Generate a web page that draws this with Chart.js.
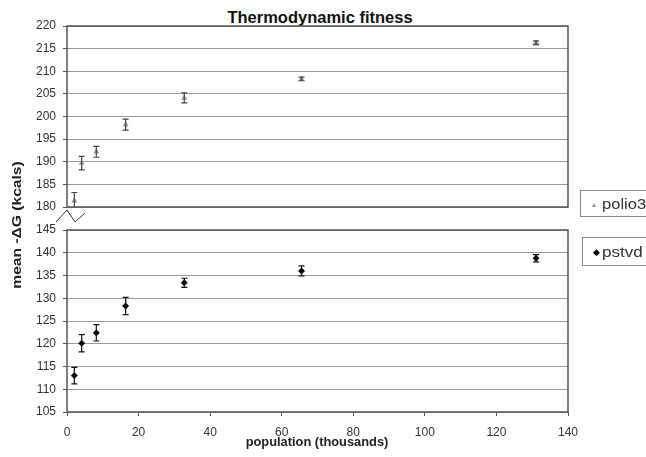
<!DOCTYPE html>
<html>
<head>
<meta charset="utf-8">
<script src="https://cdn.jsdelivr.net/npm/chart.js@4/dist/chart.umd.min.js"></script>
<style>
  html, body { margin:0; padding:0; background:#fff; }
  #wrap { position:relative; width:646px; height:457px; background:#fff; overflow:hidden;
          font-family:"Liberation Sans", Arial, sans-serif; color:#222; }
  .box { position:absolute; left:0; width:646px; }
  #title { position:absolute; left:0; width:640px; text-align:center; top:8px;
           font-weight:bold; font-size:16.5px; color:#111; }
  #ytitle { position:absolute; left:17px; top:225px; transform:translate(-50%,-50%) rotate(-90deg) scaleX(1.3);
            white-space:nowrap; font-weight:bold; font-size:12px; color:#222; }
  #xtitle { position:absolute; left:317px; top:442px; transform:translate(-50%,-50%) scaleX(1.07);
            white-space:nowrap; font-weight:bold; font-size:12px; color:#222; }
  .leg { position:absolute; border:1px solid #888; background:#fff; color:#333;
         white-space:nowrap; box-sizing:border-box; }
  .leg span.t { position:absolute; top:50%; transform-origin:left center; font-size:14px; }
  .leg span.m { position:absolute; top:50%; transform:translate(-50%,-50%); }
</style>
</head>
<body>
<div id="wrap">
  <div id="title">Thermodynamic fitness</div>
  <div class="box" style="top:0;height:215px;"><canvas id="cTop"></canvas></div>
  <div class="box" style="top:215px;height:242px;"><canvas id="cBot"></canvas></div>
  <svg style="position:absolute;left:0;top:0;" width="646" height="457">
    <polyline points="56,222 67,210 75,222 85,213" fill="none" stroke="#333" stroke-width="1"/>
  </svg>
  <div id="ytitle">mean -ΔG (kcals)</div>
  <div id="xtitle">population (thousands)</div>
  <div class="leg" style="left:580px;top:190px;width:80px;height:27px;">
    <span class="m" style="left:13px;font-size:7px;color:#999;">&#9650;</span>
    <span class="t" style="left:21px;transform:translateY(-50%) scaleX(1.18);">polio3</span>
  </div>
  <div class="leg" style="left:582px;top:237px;width:80px;height:29px;">
    <span class="m" style="left:13px;font-size:9px;color:#000;">&#9670;</span>
    <span class="t" style="left:19px;transform:translateY(-50%) scaleX(1.22);">pstvd</span>
  </div>
</div>
<script>
// population (thousands)
const popX = [2.048, 4.096, 8.192, 16.384, 32.768, 65.536, 131.072];
// polio3 mean -dG and error
const polioMean = [181.4, 189.7, 192.2, 198.2, 204.1, 208.3, 216.3];
const polioErr  = [1.8, 1.5, 1.2, 1.2, 1.1, 0.4, 0.4];
// pstvd mean -dG and error
const pstvdMean = [113.0, 120.1, 122.4, 128.3, 133.4, 136.0, 138.8];
const pstvdErr  = [1.8, 1.9, 1.8, 1.9, 1.0, 1.1, 0.8];
// axis ranges / ticks
const xRange = [0, 140];
const xStep = 20;
const topRange = [180, 220];
const botRange = [105, 145];
const yStep = 5;

const FONT = "'Liberation Sans', Arial, sans-serif";

const errorBarPlugin = {
  id: 'errorBars',
  afterDatasetsDraw(chart) {
    const ctx = chart.ctx, ca = chart.chartArea;
    const xs = chart.scales.x, ys = chart.scales.y;
    ctx.save();
    ctx.beginPath();
    ctx.rect(ca.left, ca.top - 1, ca.right - ca.left, ca.bottom - ca.top + 2);
    ctx.clip();
    chart.data.datasets.forEach(ds => {
      const errs = ds.errorBars;
      if (!errs) return;
      ctx.strokeStyle = ds.errorColor;
      ctx.lineWidth = 1.2;
      ds.data.forEach((p, i) => {
        const x = xs.getPixelForValue(p.x);
        const y1 = ys.getPixelForValue(p.y + errs[i]);
        const y2 = ys.getPixelForValue(p.y - errs[i]);
        ctx.beginPath();
        ctx.moveTo(x, y1); ctx.lineTo(x, y2);
        ctx.moveTo(x - 3, y1); ctx.lineTo(x + 3, y1);
        ctx.moveTo(x - 3, y2); ctx.lineTo(x + 3, y2);
        ctx.stroke();
      });
    });
    ctx.restore();
  }
};

const frameAndGrid = {
  id: 'frame',
  afterDraw(chart) {
    const ctx = chart.ctx, ca = chart.chartArea;
    ctx.save();
    ctx.strokeStyle = '#555';
    ctx.lineWidth = 1.5;
    ctx.strokeRect(ca.left, ca.top, ca.right - ca.left, ca.bottom - ca.top);
    ctx.restore();
  }
};

function yScale(range) {
  return {
    min: range[0], max: range[1],
    afterFit(s) { s.width = 67; s.paddingTop = 0; s.paddingBottom = 0; },
    border: { display: false },
    grid: { color: '#9a9a9a', lineWidth: 1, tickLength: 4, tickColor: '#555' },
    ticks: { stepSize: yStep, padding: 7, color: '#333', font: { family: FONT, size: 12 } }
  };
}

function makeChart(id, means, errs, style, color, errColor, range, showX) {
  return new Chart(document.getElementById(id), {
    type: 'scatter',
    data: {
      datasets: [{
        data: popX.map((x, i) => ({ x: x, y: means[i] })),
        pointStyle: style,
        pointRadius: style === 'triangle' ? 3 : 3.2,
        pointBackgroundColor: color,
        pointBorderColor: color,
        pointBorderWidth: 0.5,
        errorBars: errs,
        errorColor: errColor
      }]
    },
    options: {
      responsive: true,
      maintainAspectRatio: false,
      animation: false,
      layout: { padding: showX ? { top: 15, right: 78, bottom: 0, left: 0 }
                               : { top: 26, right: 78, bottom: 8, left: 0 } },
      plugins: { legend: { display: false }, tooltip: { enabled: false } },
      scales: {
        x: {
          type: 'linear', min: xRange[0], max: xRange[1],
          display: showX,
          afterFit(s) { if (showX) s.height = 45; },
          border: { display: false },
          grid: { drawOnChartArea: false, tickLength: 4, tickColor: '#555' },
          ticks: { stepSize: xStep, padding: 9, color: '#333', maxRotation: 0, font: { family: FONT, size: 12 } }
        },
        y: yScale(range)
      }
    },
    plugins: [errorBarPlugin, frameAndGrid]
  });
}

makeChart('cTop', polioMean, polioErr, 'triangle', '#9a9a9a', '#444', topRange, false);
makeChart('cBot', pstvdMean, pstvdErr, 'rectRot', '#000', '#111', botRange, true);
</script>
</body>
</html>
